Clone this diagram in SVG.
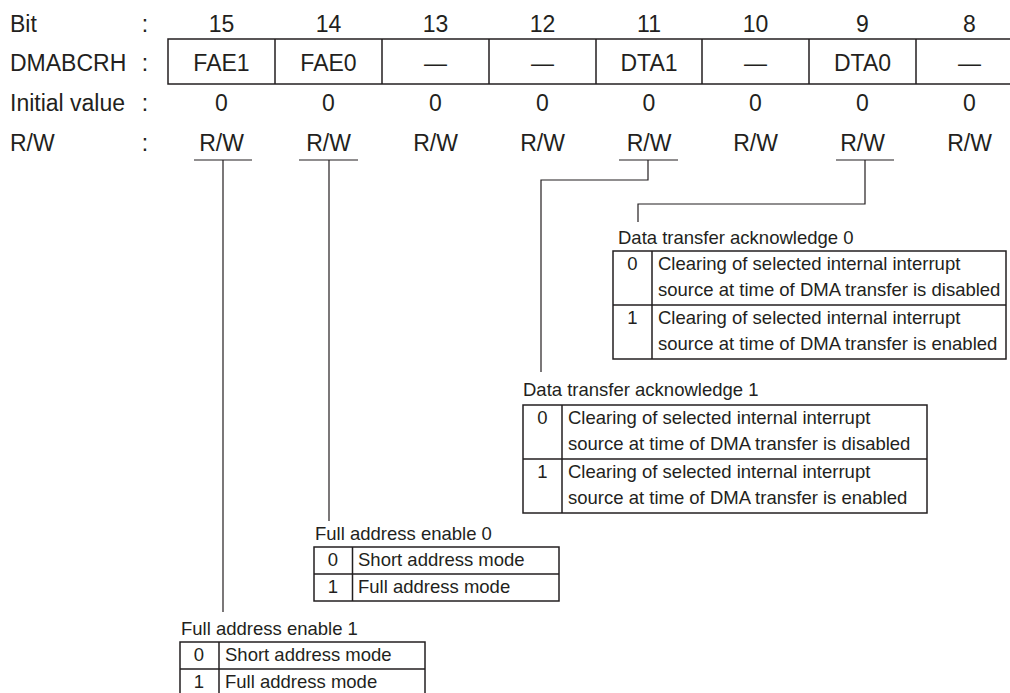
<svg xmlns="http://www.w3.org/2000/svg" width="1010" height="693" viewBox="0 0 1010 693">
<style>
text{font-family:"Liberation Sans",Arial,Helvetica,sans-serif;fill:#231f20}
.m{font-size:23px}
.c{text-anchor:middle}
.t{font-size:18.5px}
.box{fill:none;stroke:#231f20;stroke-width:1.5}
.ln{fill:none;stroke:#231f20;stroke-width:1.2}
</style>
<rect width="1010" height="693" fill="#ffffff"/>
<g id="labels" class="m">
<text x="10" y="31.5">Bit</text>
<text x="10" y="70.5">DMABCRH</text>
<text x="10" y="111">Initial value</text>
<text x="10" y="151">R/W</text>
<text x="145" y="31.5" class="c">:</text>
<text x="145" y="70.5" class="c">:</text>
<text x="145" y="111" class="c">:</text>
<text x="145" y="151" class="c">:</text>
</g>
<g id="register" class="m">
<rect class="box" x="168" y="39" width="856" height="45"/>
<path class="box" d="M275 39V84M382 39V84M489 39V84M596 39V84M702 39V84M809 39V84M916 39V84"/>
<g class="c">
<text x="221.5" y="31.5">15</text><text x="328.5" y="31.5">14</text><text x="435.5" y="31.5">13</text><text x="542.5" y="31.5">12</text>
<text x="649" y="31.5">11</text><text x="755.5" y="31.5">10</text><text x="862.5" y="31.5">9</text><text x="969.5" y="31.5">8</text>
<text x="221.5" y="70.5">FAE1</text><text x="328.5" y="70.5">FAE0</text><text x="435.5" y="70.5">—</text><text x="542.5" y="70.5">—</text>
<text x="649" y="70.5">DTA1</text><text x="755.5" y="70.5">—</text><text x="862.5" y="70.5">DTA0</text><text x="969.5" y="70.5">—</text>
<text x="221.5" y="111">0</text><text x="328.5" y="111">0</text><text x="435.5" y="111">0</text><text x="542.5" y="111">0</text>
<text x="649" y="111">0</text><text x="755.5" y="111">0</text><text x="862.5" y="111">0</text><text x="969.5" y="111">0</text>
<text x="221.5" y="151">R/W</text><text x="328.5" y="151">R/W</text><text x="435.5" y="151">R/W</text><text x="542.5" y="151">R/W</text>
<text x="649" y="151">R/W</text><text x="755.5" y="151">R/W</text><text x="862.5" y="151">R/W</text><text x="969.5" y="151">R/W</text>
</g>
</g>
<g id="connectors" class="ln">
<path d="M194 160H252M223 160V612"/>
<path d="M299 160H358M329 160V521"/>
<path d="M619 160H678M648 160V180H541V372"/>
<path d="M836 160H894M865 160V204H638V222"/>
</g>
<g id="dta0" class="t">
<text x="618" y="244">Data transfer acknowledge 0</text>
<rect class="box" x="613" y="251" width="393" height="108"/>
<path class="box" d="M652 251V359M613 305H1006"/>
<text x="632.5" y="270" class="c">0</text>
<text x="658" y="270">Clearing of selected internal interrupt</text>
<text x="658" y="296">source at time of DMA transfer is disabled</text>
<text x="632.5" y="324" class="c">1</text>
<text x="658" y="324">Clearing of selected internal interrupt</text>
<text x="658" y="350">source at time of DMA transfer is enabled</text>
</g>
<g id="dta1" class="t">
<text x="523" y="396">Data transfer acknowledge 1</text>
<rect class="box" x="523" y="405" width="404" height="108"/>
<path class="box" d="M562 405V513M523 459H927"/>
<text x="542.5" y="424" class="c">0</text>
<text x="568" y="424">Clearing of selected internal interrupt</text>
<text x="568" y="450">source at time of DMA transfer is disabled</text>
<text x="542.5" y="478" class="c">1</text>
<text x="568" y="478">Clearing of selected internal interrupt</text>
<text x="568" y="504">source at time of DMA transfer is enabled</text>
</g>
<g id="fae0" class="t">
<text x="315" y="540">Full address enable 0</text>
<rect class="box" x="314" y="547" width="245" height="54"/>
<path class="box" d="M352.5 547V601M314 574H559"/>
<text x="333" y="566" class="c">0</text>
<text x="358" y="566">Short address mode</text>
<text x="333" y="593" class="c">1</text>
<text x="358" y="593">Full address mode</text>
</g>
<g id="fae1" class="t">
<text x="181" y="635">Full address enable 1</text>
<rect class="box" x="180" y="642" width="245" height="54"/>
<path class="box" d="M219 642V696M180 669H425"/>
<text x="199" y="661" class="c">0</text>
<text x="225" y="661">Short address mode</text>
<text x="199" y="688" class="c">1</text>
<text x="225" y="688">Full address mode</text>
</g>
</svg>
